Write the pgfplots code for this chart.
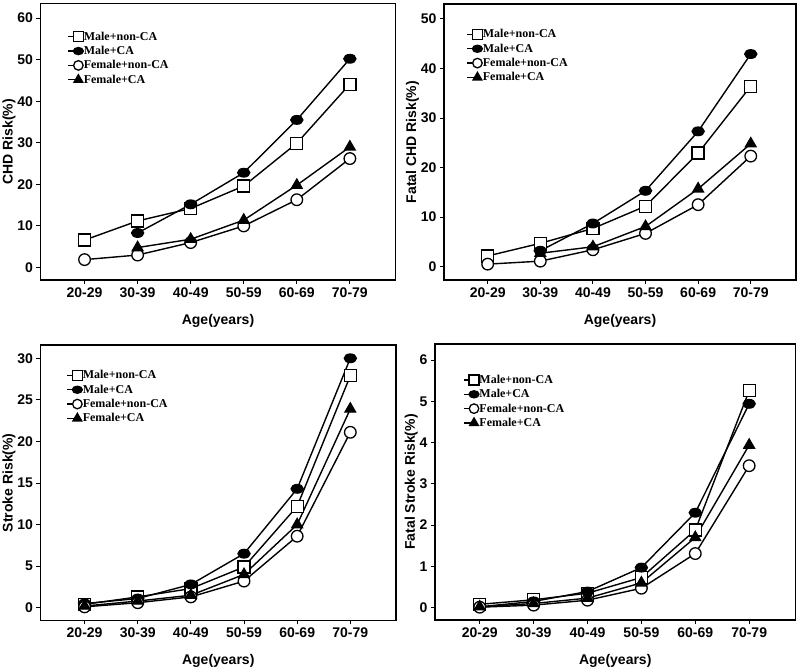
\documentclass[border=0pt]{standalone}
\usepackage{fontspec}
\setmainfont{Liberation Sans}
\newfontfamily\legfont{Liberation Serif}
\newcommand\lf{\legfont\bfseries\fontsize{12}{13}\selectfont}
\usepackage{pgfplots}
\pgfplotsset{compat=1.18}
\pgfplotsset{
 riskax/.style={
  scale only axis,
  anchor=south west,
  xmin=-0.83, xmax=5.86,
  xtick={0,1,2,3,4,5},
  xticklabels={20-29,30-39,40-49,50-59,60-69,70-79},
  xlabel={Age(years)},
  tick align=outside,
  xtick pos=left, ytick pos=left,
  major tick length=4pt,
  axis line style={line width=1.6pt},
  tick style={line width=0.9pt, black},
  ticklabel style={font=\bfseries\fontsize{14}{15}\selectfont},
  label style={font=\bfseries\fontsize{14}{15}\selectfont},
  xlabel style={yshift=-10pt},
  ylabel style={yshift=-5pt},
  /pgf/number format/assume math mode=true,
  every axis plot/.append style={line width=1.4pt, black},
  legend style={draw=none, fill=none, font=\lf, anchor=north west, row sep=3.5pt, inner sep=0pt, nodes={inner sep=0.5pt, font=\lf}},
  legend cell align=left,
  legend image code/.code={\draw[#1, mark repeat=2, mark phase=2, every mark/.append style={scale=0.82}] plot coordinates {(0pt,0pt) (10pt,0pt)};},
  clip=false,
  after end axis/.code={\draw[line width=1.8pt, black] (rel axis cs:0,0) rectangle (rel axis cs:1,1);},
 },
 mnc/.style={mark=square*, mark size=6pt, mark options={fill=white, draw=black, line width=1.3pt}},
 mca/.style={mark=*, mark size=5pt, mark options={fill=black, draw=black, xscale=1.2, yscale=0.85}},
 fnc/.style={mark=*, mark size=5.8pt, mark options={fill=white, draw=black, line width=1.3pt}},
 fca/.style={mark=triangle*, mark size=6pt, mark options={fill=black, draw=black}},
}
\begin{document}
\begin{tikzpicture}
\useasboundingbox (0,0) rectangle (800pt,671pt);
% Panel 1
\begin{axis}[riskax, at={(40.5pt,391pt)}, width=355pt, height=276.5pt,
  ymin=-3, ymax=63.5, ytick={0,10,20,30,40,50,60}, ylabel={CHD Risk(\%)},
  legend style={at={(0.076,0.90)}}]
\addplot[mnc] coordinates {(0,6.6) (1,11.2) (2,14.2) (3,19.6) (4,29.9) (5,44.1)};
\addplot[mca] coordinates {(1,8.3) (2,15.2) (3,22.8) (4,35.5) (5,50.2)};
\addplot[fnc] coordinates {(0,1.9) (1,3.0) (2,6.0) (3,10.0) (4,16.3) (5,26.2)};
\addplot[fca] coordinates {(1,4.8) (2,6.8) (3,11.4) (4,19.8) (5,29.0)};
\legend{Male+non-CA, Male+CA, Female+non-CA, Female+CA}
\end{axis}
% Panel 2
\begin{axis}[riskax, at={(444pt,391pt)}, width=352pt, height=276pt,
  ymin=-2.7, ymax=53, ytick={0,10,20,30,40,50}, ylabel={Fatal CHD Risk(\%)},
  legend style={at={(0.064,0.91)}}]
\addplot[mnc] coordinates {(0,2.15) (1,4.7) (2,7.7) (3,12.2) (4,22.9) (5,36.4)};
\addplot[mca] coordinates {(1,3.2) (2,8.7) (3,15.3) (4,27.3) (5,42.9)};
\addplot[fnc] coordinates {(0,0.5) (1,1.1) (2,3.4) (3,6.7) (4,12.5) (5,22.3)};
\addplot[fca] coordinates {(1,2.7) (2,4.0) (3,8.1) (4,15.7) (5,24.8)};
\legend{Male+non-CA, Male+CA, Female+non-CA, Female+CA}
\end{axis}
% Panel 3
\begin{axis}[riskax, at={(40.5pt,50.5pt)}, width=355.5pt, height=275.5pt,
  ymin=-1.54, ymax=31.6, ytick={0,5,10,15,20,25,30}, ylabel={Stroke Risk(\%)},
  legend style={at={(0.073,0.91)}}]
\addplot[mnc] coordinates {(0,0.4) (1,1.3) (2,2.3) (3,4.9) (4,12.2) (5,27.9)};
\addplot[mca] coordinates {(0,0.5) (1,1.1) (2,2.8) (3,6.5) (4,14.3) (5,30.0)};
\addplot[fnc] coordinates {(0,0.1) (1,0.6) (2,1.3) (3,3.2) (4,8.6) (5,21.1)};
\addplot[fca] coordinates {(0,0.2) (1,0.8) (2,1.5) (3,4.0) (4,10.0) (5,23.9)};
\legend{Male+non-CA, Male+CA, Female+non-CA, Female+CA}
\end{axis}
% Panel 4
\begin{axis}[riskax, at={(435pt,51pt)}, width=360.5pt, height=276pt,
  ymin=-0.3, ymax=6.39, ytick={0,1,2,3,4,5,6}, ylabel={Fatal Stroke Risk(\%)},
  legend style={at={(0.078,0.89)}}]
\addplot[mnc] coordinates {(0,0.08) (1,0.19) (2,0.35) (3,0.73) (4,1.88) (5,5.26)};
\addplot[mca] coordinates {(0,0.02) (1,0.15) (2,0.39) (3,0.97) (4,2.30) (5,4.94)};
\addplot[fnc] coordinates {(0,0.01) (1,0.06) (2,0.18) (3,0.47) (4,1.31) (5,3.44)};
\addplot[fca] coordinates {(0,0.02) (1,0.10) (2,0.23) (3,0.60) (4,1.70) (5,3.94)};
\legend{Male+non-CA, Male+CA, Female+non-CA, Female+CA}
\end{axis}
\end{tikzpicture}
\end{document}
